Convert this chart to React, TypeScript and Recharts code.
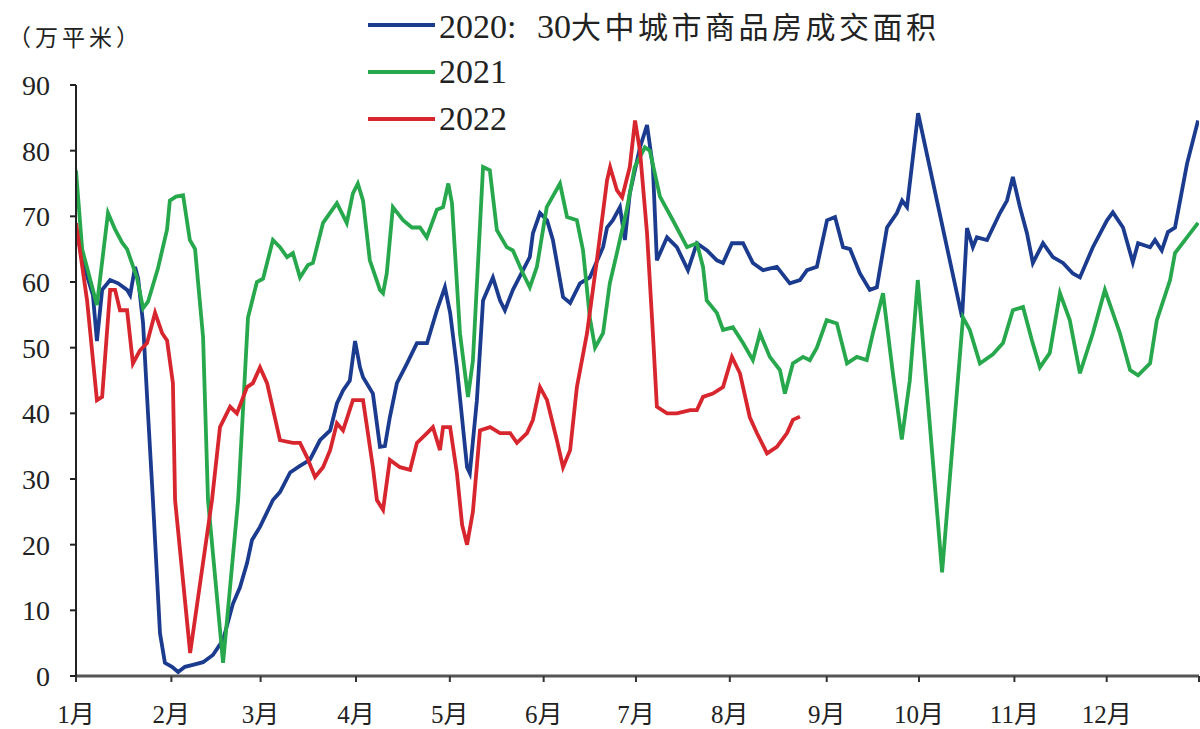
import React from 'react';
import { LineChart, Line, XAxis, YAxis, Legend } from 'recharts';

const FONT = '"Liberation Serif", "Noto Sans CJK SC", serif';

// x = day of year, y = 万平米
const monthLabels = ['1月', '2月', '3月', '4月', '5月', '6月', '7月', '8月', '9月', '10月', '11月', '12月', ''];
const monthTicks = [0, 31, 60, 91, 121.5, 152, 182, 212.5, 244, 274, 305, 335, 365];
const yTicks = [0, 10, 20, 30, 40, 50, 60, 70, 80, 90];

const days2020 = [
  0, 2.9, 5.5, 6.8, 8.5, 11.1, 13.7, 16.6, 17.6, 19.2, 20.2, 21.8, 23.4, 25, 27.3, 28.9, 31.2, 33.2, 35.4, 38,
  41.3, 44.5, 47.8, 51, 53.3, 55.6, 57.2, 59.8, 64, 66.3, 69.6, 72.8, 76, 79.3, 82.6, 84.8, 86.8, 89, 90.7, 92.3,
  93.3, 96.5, 98.8, 100.4, 102, 104.3, 107.6, 110.8, 114.1, 117.3, 119.9, 121.6, 123.8, 127.1, 128, 130.3, 132.3,
  135.5, 137.8, 139.4, 142, 145.3, 147.5, 148.5, 150.8, 153.1, 155, 158.3, 160.6, 163.8, 167, 171.3, 172.6, 174.5,
  176.8, 178.4, 180, 183.3, 185.6, 187.5, 188.8, 192.1, 195.3, 198.9, 201.8, 205.1, 208.3, 210.3, 213.2, 216.8,
  220, 223.3, 227.8, 232, 235.3, 237.6, 240.8, 244.1, 246.7, 249.3, 251.6, 254.8, 258, 260.3, 263.6, 266.8, 268.5,
  270.1, 273.7, 288, 289.6, 291.5, 292.8, 296.1, 300.3, 302.6, 304.5, 306.8, 309.1, 311, 314.3, 317.5, 320.8, 324,
  326.3, 330.5, 335.1, 337, 340.3, 343.5, 345.2, 349.1, 350.7, 352.9, 354.9, 357.2, 361.1, 364.7,
];
const vals2020 = [
  68, 62, 58, 51, 58.8, 60.3, 59.8, 58.8, 58, 62.3, 60.5, 53.7, 40, 26.8, 6.5, 2, 1.4, 0.6, 1.4, 1.7,
  2.1, 3.2, 5.5, 11, 13.5, 17.2, 20.7, 22.7, 26.8, 28, 31, 32, 32.9, 35.9, 37.4, 41.5, 43.5, 45, 51, 47,
  45.5, 43, 34.9, 35, 39.4, 44.6, 47.6, 50.7, 50.7, 55.7, 59.2, 55.3, 47, 31.8, 30.9, 42, 57.2,
  60.7, 57.2, 55.7, 58.8, 61.8, 63.8, 67.4, 70.5, 69.4, 66.4, 57.7, 56.8, 59.8, 60.7, 65.3, 68.3, 69.4,
  71.4, 66.4, 73.5, 80.5, 83.9, 77.5, 63.3, 66.8, 65.3, 61.8, 65.9, 64.8, 63.3, 62.9, 65.9, 65.9,
  62.9, 61.8, 62.3, 59.8, 60.3, 61.8, 62.3, 69.4, 69.9, 65.3, 65, 61.3, 58.8, 59.2, 68.3, 70.5, 72.4,
  71.4, 85.7, 54.6, 68.2, 65.3, 66.8, 66.4, 70.5, 72.4, 76, 71.4, 67.4, 62.9, 65.9, 63.8, 62.9, 61.3,
  60.7, 65.3, 69.4, 70.6, 68.3, 63, 65.9, 65.3, 66.4, 64.8, 67.6, 68.3, 78, 84.6,
];

const days2021 = [
  0, 2, 6.8, 10.4, 12.7, 15, 16.6, 19.8, 21.8, 23.4, 26.6, 29.6, 30.5, 32.5, 34.8, 37, 38.7, 41.3, 42.9, 47.8,
  52.7, 55.9, 58.8, 60.8, 64, 66.3, 68.6, 70.5, 72.8, 75.4, 77, 80.3, 84.8, 88, 90, 91.6, 93.3, 95.5, 98.8, 99.8,
  101, 103, 106.3, 109.2, 111.8, 114, 117.3, 119.3, 121, 122.2, 124.8, 127.4, 129, 132.3, 134.5, 136.8, 140, 142,
  145.3, 147.5, 149.8, 153, 157.3, 159.6, 162.8, 164.8, 167, 168.7, 171.3, 173.5, 175.8, 179, 181.6, 184.9, 186.5,
  189.8, 194, 198.6, 201.8, 203.8, 205, 208.3, 210.3, 213.5, 216.8, 220, 222.3, 225.5, 228.8, 230.4, 233, 236.3,
  238.5, 240.8, 244, 247.3, 250.6, 253.8, 257, 259, 262.3, 265.5, 268.4, 271, 273.6, 281.5, 288.3, 290.5, 293.8,
  298, 301.3, 304.5, 307.8, 310.7, 313.3, 316.5, 319.8, 323, 326.3, 330.5, 334.4, 339.3, 342.6, 345.2, 349.1,
  351.3, 355.6, 357.2, 361.1, 364.7,
];
const vals2021 = [
  77, 65, 56.5, 70.5, 68, 66, 65, 60.7, 56, 57, 62, 68, 72.4, 73, 73.2, 66.4, 65, 51.6, 26.8, 2,
  26.8, 54.6, 60, 60.5, 66.4, 65.3, 63.8, 64.4, 60.7, 62.6, 62.9, 69, 72, 69, 73.5, 75, 72.4, 63.3, 58.8, 58.3,
  61.3, 71.4, 69.4, 68.3, 68.3, 66.8, 71, 71.4, 75, 72, 52.2, 42.5, 48, 77.5, 77, 67.9, 65.3, 64.8,
  61.3, 59.2, 62.3, 71.4, 75, 69.9, 69.4, 64.8, 54.6, 50, 52.2, 59.8, 64.4, 71, 77.5, 80.5, 80,
  73, 69.4, 65.3, 65.9, 62.3, 57.2, 55.3, 52.7, 53.1, 50.7, 48.1, 52.2, 48.6, 46.6, 43, 47.6, 48.6,
  48.1, 50, 54.2, 53.7, 47.6, 48.6, 48.1, 52.2, 58.3, 46.1, 36, 45, 60.3, 15.8, 54.6, 52.7, 47.6,
  49, 50.7, 55.7, 56.2, 51.1, 47, 49.2, 58.3, 54.2, 46.1, 52.2, 58.8, 52.2, 46.6, 45.8, 47.6,
  54.2, 60.3, 64.4, 66.8, 69,
];

const days2022 = [
  0, 3.6, 6.8, 8.5, 11.1, 12.7, 14.3, 16.6, 18.5, 20.8, 23.1, 25.7, 28, 29.6, 31.5, 32.2, 37.1, 44.2, 46.8, 50.1,
  52.3, 55.6, 57.5, 59.8, 62.1, 66.3, 70.5, 72.8, 75.1, 77.7, 80.3, 82.6, 84.8, 86.8, 90, 93.3, 96.5, 97.8, 99.8,
  102, 105.3, 108.6, 110.8, 114.1, 116, 118.3, 119.3, 121.6, 123.8, 125.5, 127.1, 129, 131.3, 134.6, 137.8, 141.1,
  143.3, 146.6, 148.5, 150.8, 153.1, 156.3, 158.3, 160.6, 162.8, 166.1, 169.3, 172.6, 173.6, 175.8, 177.5, 180,
  181.7, 183.3, 185.6, 187.5, 188.8, 192.1, 195.3, 199.6, 201.8, 203.8, 207, 210.3, 213.2, 215.8, 219, 221.3,
  224.6, 227.8, 231.1, 233, 235.3,
];
const vals2022 = [
  69, 57.2, 42, 42.5, 58.8, 58.8, 55.7, 55.7, 47.6, 49.6, 50.7, 55.3, 52.2, 51.1, 44.6, 26.8, 3.5, 26.8, 37.9, 41,
  40, 44, 44.6, 47, 44.6, 35.9, 35.5, 35.5, 33.3, 30.3, 31.8, 34.4, 38.5, 37.4, 42, 42, 31.8, 26.8, 25.3,
  32.9, 31.8, 31.4, 35.5, 37, 37.9, 34.4, 37.9, 37.9, 30.9, 23, 20, 25, 37.4, 37.9, 37, 37,
  35.5, 37, 39, 44, 42, 35.9, 31.8, 34.4, 44, 52.2, 63.3, 75.5, 77.5, 74, 72.9, 77.5,
  84.6, 80, 67.4, 52.2, 41, 40, 40, 40.5, 40.5, 42.5, 43, 44, 48.6, 46.1, 39.4, 37,
  33.9, 34.9, 37, 39, 39.5,
];

const toPoints = (days: number[], vals: number[]) => days.map((d, i) => ({ d, v: vals[i] }));

const series = [
  { name: '2020: 30大中城市商品房成交面积', color: '#1b3b8e', data: toPoints(days2020, vals2020) },
  { name: '2021', color: '#27a84c', data: toPoints(days2021, vals2021) },
  { name: '2022', color: '#d8262e', data: toPoints(days2022, vals2022) },
];

// CJK glyphs a little smaller than the digits, like the original Song font
const LegendText = ({ text }: { text: string }) => (
  <span style={{ whiteSpace: 'pre' }}>
    {text.split(/([\u4e00-\u9fff]+)/).map((part, i) =>
      /[\u4e00-\u9fff]/.test(part) ? (
        <span key={i} style={{ fontSize: 30, letterSpacing: 3.5 }}>{part}</span>
      ) : (
        <span key={i} style={{ wordSpacing: 12 }}>{part}</span>
      )
    )}
  </span>
);

const LegendBox = ({ payload }: any) => (
  <div style={{ fontFamily: FONT, fontSize: 34, color: '#222' }}>
    {(payload || []).map((p: any) => (
      <div key={p.value} style={{ display: 'flex', alignItems: 'center', height: 47 }}>
        <span style={{ display: 'inline-block', width: 67, height: 4, background: p.color, marginRight: 4 }} />
        <LegendText text={p.value} />
      </div>
    ))}
  </div>
);

const App: React.FC = () => {
  const xTickStyle = { fontFamily: FONT, fontSize: 25, fill: '#222' };
  const yTickStyle = { fontFamily: FONT, fontSize: 28, fill: '#222' };
  return (
    <div style={{ position: 'absolute', left: 0, top: 0, width: 1200, height: 729, background: '#fff' }}>
      <div
        style={{
          position: 'absolute',
          left: 8,
          top: 19,
          fontFamily: FONT,
          fontSize: 23,
          letterSpacing: 4,
          color: '#222',
        }}
      >
        （万平米）
      </div>
      <LineChart width={1200} height={729} margin={{ top: 85, right: 1, bottom: 0, left: 0 }}>
        <XAxis
          dataKey="d"
          type="number"
          domain={[0, 365]}
          ticks={monthTicks}
          interval={0}
          tickFormatter={(_v: number, i: number) => monthLabels[i] ?? ''}
          height={53}
          tickSize={6}
          tickMargin={23}
          tick={xTickStyle}
          axisLine={{ stroke: '#555', strokeWidth: 3 }}
          tickLine={{ stroke: '#333', strokeWidth: 2 }}
          allowDataOverflow
        />
        <YAxis
          type="number"
          domain={[0, 90]}
          ticks={yTicks}
          interval={0}
          width={76}
          tickSize={6}
          tickMargin={20}
          tick={yTickStyle}
          axisLine={{ stroke: '#222', strokeWidth: 2 }}
          tickLine={{ stroke: '#222', strokeWidth: 2 }}
        />
        <Legend
          layout="vertical"
          verticalAlign="middle"
          align="center"
          content={<LegendBox />}
          wrapperStyle={{ top: 1, left: 368, width: 'auto' }}
        />
        {series.map((s) => (
          <Line
            key={s.name}
            data={s.data}
            dataKey="v"
            name={s.name}
            type="linear"
            stroke={s.color}
            strokeWidth={3.8}
            dot={false}
            isAnimationActive={false}
          />
        ))}
      </LineChart>
    </div>
  );
};

export default App;
